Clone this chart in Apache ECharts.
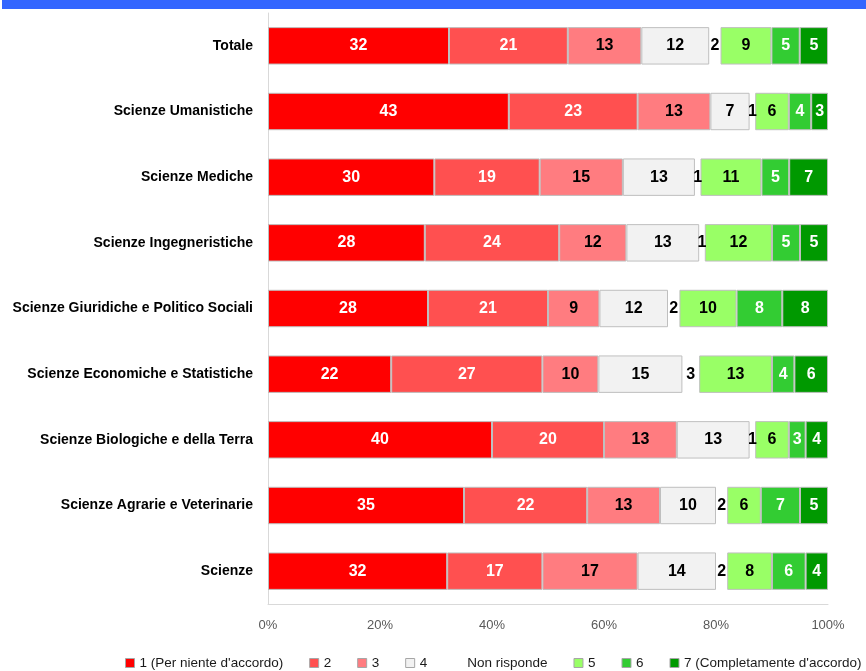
<!DOCTYPE html>
<html>
<head>
<meta charset="utf-8">
<script src="https://cdn.jsdelivr.net/npm/echarts@6/dist/echarts.min.js"></script>
<style>
  html, body { margin: 0; padding: 0; background: #fff; }
  #chart { width: 866px; height: 671px; }
</style>
</head>
<body>
<div id="chart"></div>
<script>
// categorie (dall'alto verso il basso)
var categories = ['Totale', 'Scienze Umanistiche', 'Scienze Mediche', 'Scienze Ingegneristiche',
    'Scienze Giuridiche e Politico Sociali', 'Scienze Economiche e Statistiche',
    'Scienze Biologiche e della Terra', 'Scienze Agrarie e Veterinarie', 'Scienze'];

var seriesNames = ["1 (Per niente d'accordo)", '2', '3', '4', 'Non risponde', '5', '6', "7 (Completamente d'accordo)"];

var v1 = [32, 43, 30, 28, 28, 22, 40, 35, 32];
var v2 = [21, 23, 19, 24, 21, 27, 20, 22, 17];
var v3 = [13, 13, 15, 12, 9, 10, 13, 13, 17];
var v4 = [12, 7, 13, 13, 12, 15, 13, 10, 14];
var vNR = [2, 1, 1, 1, 2, 3, 1, 2, 2];
var v5 = [9, 6, 11, 12, 10, 13, 6, 6, 8];
var v6 = [5, 4, 5, 5, 8, 4, 3, 7, 6];
var v7 = [5, 3, 7, 5, 8, 6, 4, 5, 4];

var xTicks = ['0%', '20%', '40%', '60%', '80%', '100%'];

var allValues = [v1, v2, v3, v4, vNR, v5, v6, v7];
var colors = ['#FF0000', '#FF5050', '#FF7C80', '#F2F2F2', 'transparent', '#99FF66', '#33CC33', '#009900'];
var labelColors = ['#fff', '#fff', '#000', '#000', '#000', '#000', '#fff', '#fff'];

// somma per riga, per portare ogni barra al 100%
var rowSum = categories.map(function (c, i) {
    var s = 0;
    allValues.forEach(function (arr) { s += arr[i]; });
    return s;
});

var series = allValues.map(function (arr, k) {
    var isNR = (k === 4);
    return {
        name: seriesNames[k],
        type: 'bar',
        stack: 'tot',
        barCategoryGap: '43%',
        data: arr.map(function (v, i) {
            return { value: v / rowSum[i] * 100, raw: v };
        }),
        itemStyle: {
            color: colors[k],
            borderColor: isNR ? 'transparent' : '#BFBFBF',
            borderWidth: isNR ? 0 : 1
        },
        label: {
            show: true,
            position: 'inside',
            color: labelColors[k],
            fontFamily: 'Liberation Sans',
            fontWeight: 'bold',
            fontSize: 16,
            formatter: function (p) { return p.data.raw; }
        },
        emphasis: { disabled: true }
    };
});

// voci legenda: "Non risponde" senza quadratino
var legendData = seriesNames.map(function (n, k) {
    if (k === 4) {
        return { name: n, itemStyle: { color: 'transparent', borderWidth: 0 } };
    }
    return { name: n };
});

var myChart = echarts.init(document.getElementById('chart'));
var option = {
    animation: false,
    backgroundColor: '#fff',
    graphic: [{
        type: 'rect',
        left: 2, top: 0,
        shape: { width: 864, height: 9 },
        style: { fill: '#3366FF' }
    }],
    grid: { left: 268, right: 38, top: 13, bottom: 67, containLabel: false },
    legend: {
        data: legendData,
        left: 125,
        width: 741,
        bottom: 0,
        padding: [5, 0, 1, 0],
        itemWidth: 9,
        itemHeight: 9,
        itemGap: 26,
        icon: 'rect',
        textStyle: { fontFamily: 'Liberation Sans', fontSize: 13.5, color: '#1a1a1a' },
        itemStyle: { borderColor: '#A6A6A6', borderWidth: 1 }
    },
    xAxis: {
        type: 'value',
        min: 0, max: 100, interval: 20,
        axisLine: { show: true, lineStyle: { color: '#D9D9D9', width: 1 } },
        axisTick: { show: false },
        splitLine: { show: false },
        axisLabel: {
            margin: 15,
            color: '#595959',
            fontFamily: 'Liberation Sans',
            fontSize: 13,
            formatter: function (v) { return xTicks[v / 20]; }
        }
    },
    yAxis: {
        type: 'category',
        inverse: true,
        data: categories,
        axisLine: { show: true, lineStyle: { color: '#D9D9D9', width: 1 } },
        axisTick: { show: false },
        axisLabel: {
            margin: 15,
            color: '#000',
            fontFamily: 'Liberation Sans',
            fontWeight: 'bold',
            fontSize: 14
        }
    },
    series: series
};
myChart.setOption(option);
</script>
</body>
</html>
